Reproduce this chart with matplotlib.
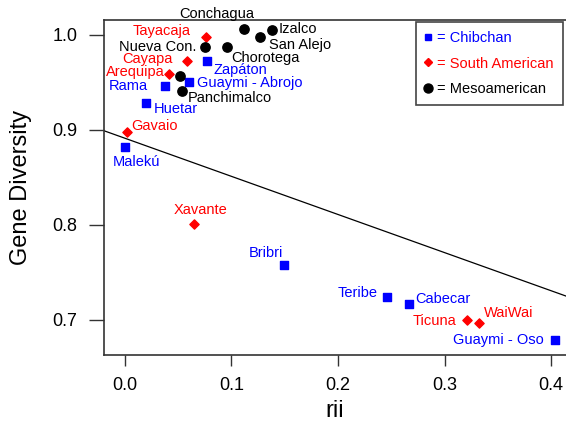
import numpy as np
import matplotlib
matplotlib.use("Agg")
import matplotlib.pyplot as plt
from matplotlib.lines import Line2D

plt.rcParams['font.family'] = ['Liberation Sans', 'DejaVu Sans']

# Chibchan populations
chibNames = ['Malekú', 'Huetar', 'Rama', 'Guaymi - Abrojo', 'Zapáton',
             'Bribri', 'Teribe', 'Cabecar', 'Guaymi - Oso']
chibRii = [0.000, 0.020, 0.038, 0.060, 0.077, 0.149, 0.246, 0.267, 0.404]
chibGD = [0.882, 0.928, 0.946, 0.950, 0.972, 0.758, 0.724, 0.717, 0.679]

# South American populations
saNames = ['Gavaio', 'Arequipa', 'Cayapa', 'Tayacaja', 'Xavante', 'Ticuna', 'WaiWai']
saRii = [0.002, 0.041, 0.058, 0.076, 0.065, 0.321, 0.332]
saGD = [0.898, 0.959, 0.972, 0.997, 0.801, 0.700, 0.697]

# Mesoamerican populations
mesoNames = ['Conchagua', 'Izalco', 'San Alejo', 'Nueva Con.', 'Chorotega', 'Panchimalco', '']
mesoRii = [0.112, 0.138, 0.127, 0.075, 0.096, 0.054, 0.052]
mesoGD = [1.006, 1.005, 0.998, 0.987, 0.987, 0.941, 0.957]

# regression line
lineIntercept = 0.891
lineSlope = -0.401

# label placement (offset in pixels, horizontal alignment)
chibOffsets = [(12, -15, 'center'), (7, -6, 'left'), (-18, 0, 'right'), (8, -1, 'left'),
               (7, -9, 'left'), (-1, 12, 'right'), (-9, 4, 'right'), (6, 5, 'left'),
               (-12, 0, 'right')]
saOffsets = [(4, 6, 'left'), (-4, 2, 'right'), (-14, 2, 'right'), (-15, 6, 'right'),
             (6, 14, 'center'), (-11, -1, 'right'), (5, 10, 'left')]
mesoOffsets = [(-28, 15, 'center'), (7, 1, 'left'), (9, -8, 'left'), (-8, 0, 'right'),
               (4, -11, 'left'), (5, -7, 'left'), (0, 0, 'left')]

BLUE = '#0000FF'
RED = '#FF0000'
BLACK = '#000000'

fig = plt.figure(figsize=(5.66, 4.21), dpi=100)
ax = fig.add_axes([0.1837, 0.1568, 0.8163, 0.7957])

ax.scatter(chibRii, chibGD, marker='s', s=26, color=BLUE, zorder=3)
ax.scatter(saRii, saGD, marker='D', s=22, color=RED, zorder=3)
ax.scatter(mesoRii, mesoGD, marker='o', s=45, color=BLACK, zorder=3)

ax.axline((0, lineIntercept), slope=lineSlope, color='black', lw=0.9, zorder=2)


def addLabels(names, xs, ys, offsets, color):
    for name, x, y, off in zip(names, xs, ys, offsets):
        if not name:
            continue
        ax.annotate(name, (x, y), xytext=(off[0], off[1]), textcoords='offset pixels',
                    ha=off[2], va='center', color=color, fontsize=10.5,
                    annotation_clip=False)


addLabels(chibNames, chibRii, chibGD, chibOffsets, BLUE)
addLabels(saNames, saRii, saGD, saOffsets, RED)
addLabels(mesoNames, mesoRii, mesoGD, mesoOffsets, BLACK)

ax.set_xlim(-0.0197, 0.414)
ax.set_ylim(0.663, 1.0154)
ax.set_xticks([0.0, 0.1, 0.2, 0.3, 0.4])
ax.set_yticks([0.7, 0.8, 0.9, 1.0])
ax.set_xticklabels(['0.0', '0.1', '0.2', '0.3', '0.4'])
ax.set_yticklabels(['0.7', '0.8', '0.9', '1.0'])
ax.tick_params(axis='x', length=8, width=1, pad=8, labelsize=13, color='#333333')
ax.tick_params(axis='y', length=11, width=1, pad=8, labelsize=13, color='#333333')

for side in ['left', 'bottom', 'top']:
    ax.spines[side].set_linewidth(1.2)
    ax.spines[side].set_color('#333333')
ax.spines['right'].set_visible(False)

ax.set_xlabel('rii', fontsize=17)
ax.set_ylabel('Gene Diversity', fontsize=17)
ax.xaxis.set_label_coords(0.5, -0.135)
ax.yaxis.set_label_coords(-0.155, 0.5)

handles = [
    Line2D([], [], marker='s', linestyle='none', color=BLUE, markersize=5),
    Line2D([], [], marker='D', linestyle='none', color=RED, markersize=4.5),
    Line2D([], [], marker='o', linestyle='none', color=BLACK, markersize=6.5),
]
leg = ax.legend(handles, ['= Chibchan', '= South American', '= Mesoamerican'],
                loc='upper left', bbox_to_anchor=(0.675, 0.995), fontsize=10.5,
                labelcolor=[BLUE, RED, BLACK], handlelength=0.4, handletextpad=0.4,
                borderpad=0.65, labelspacing=0.78, fancybox=False, framealpha=1,
                borderaxespad=0)
leg.get_frame().set_edgecolor('#444444')
leg.get_frame().set_linewidth(1.2)

fig.savefig('out.png', dpi=100)
